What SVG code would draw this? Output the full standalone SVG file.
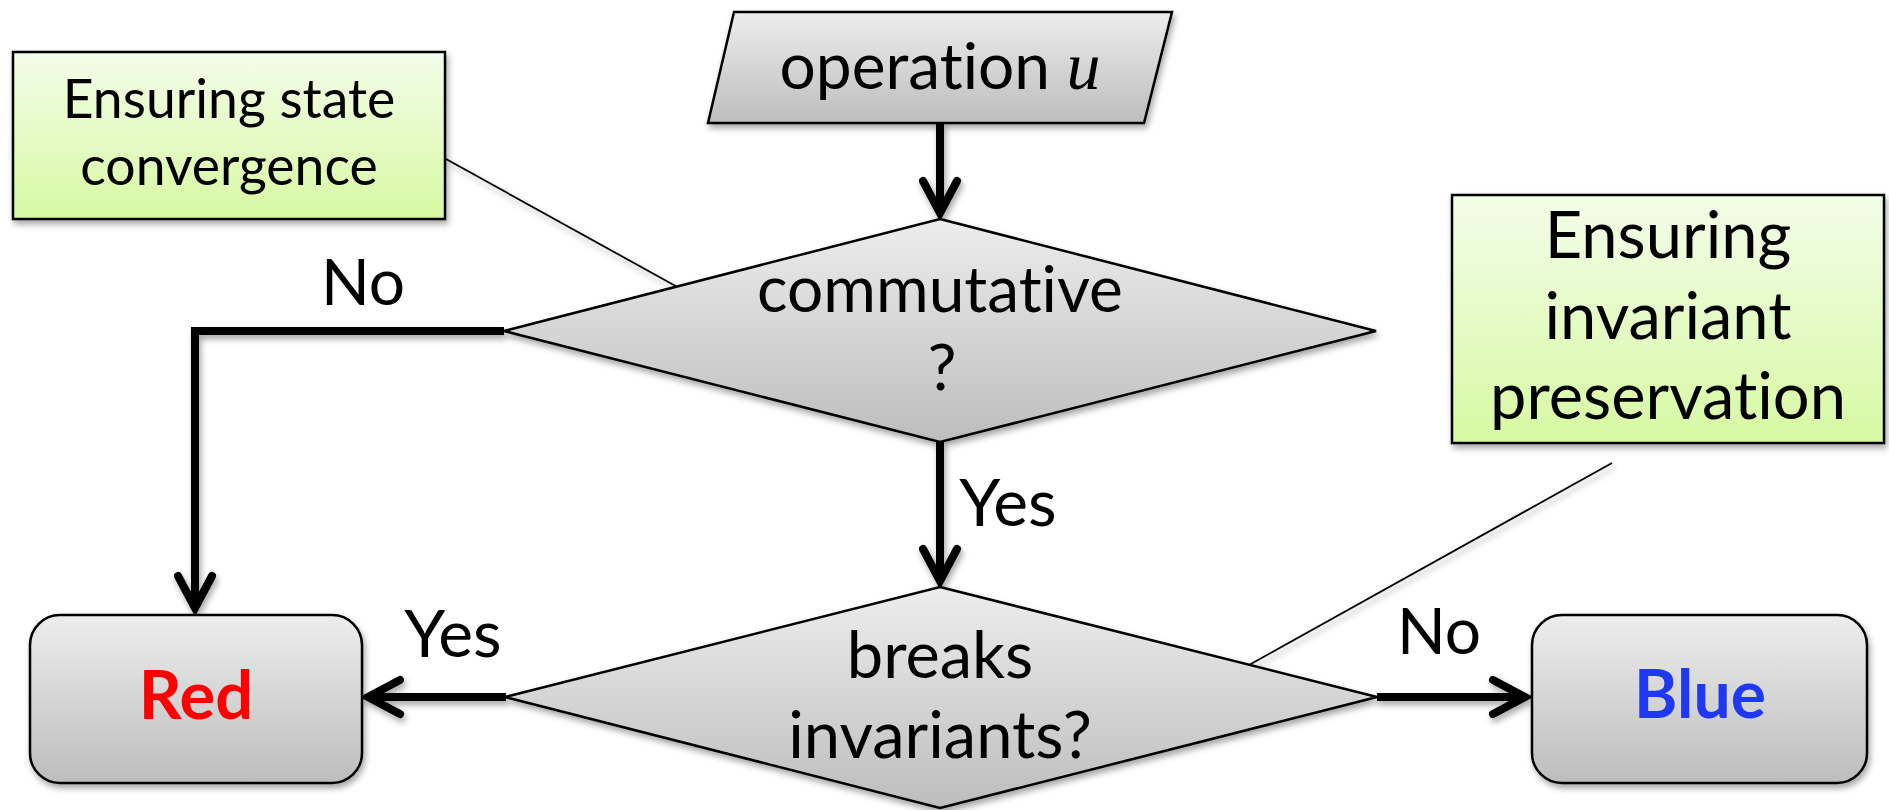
<svg xmlns="http://www.w3.org/2000/svg" width="1889" height="810" viewBox="0 0 1889 810">
<defs>
<linearGradient id="gray" x1="0" y1="0" x2="0" y2="1">
<stop offset="0" stop-color="#EDEDED"/>
<stop offset="1" stop-color="#BDBDBD"/>
</linearGradient>
<linearGradient id="green" x1="0" y1="0" x2="0" y2="1">
<stop offset="0" stop-color="#F3FDE9"/>
<stop offset="1" stop-color="#D7F9A3"/>
</linearGradient>
<filter id="sh" x="-10%" y="-10%" width="130%" height="140%">
<feDropShadow dx="2" dy="4" stdDeviation="3" flood-color="#000" flood-opacity="0.35"/>
</filter>
<marker id="arr" markerUnits="userSpaceOnUse" viewBox="-45 -25 55 50" refX="0" refY="0" markerWidth="55" markerHeight="50" orient="auto">
<path d="M-32 -17 L0 0 L-32 17" fill="none" stroke="#000" stroke-width="8" stroke-linecap="round" stroke-linejoin="miter"/>
</marker>
</defs>
<style>
.t{font-family:Lato,"Open Sans","Liberation Sans",sans-serif;fill:#000;text-anchor:middle;font-variant-ligatures:none}
.node{stroke:#000;stroke-width:2.5}
.flow{fill:none;stroke:#000;stroke-width:8;marker-end:url(#arr)}
.call{fill:none;stroke:#000;stroke-width:1.8}
</style>
<g id="connectors" filter="url(#sh)">
<path class="flow" d="M940 123 V213"/>
<path class="flow" d="M504 331 H195 V608"/>
<path class="flow" d="M940 442 V581"/>
<path class="flow" d="M506 697 H368"/>
<path class="flow" d="M1377 697 H1525"/>
<path class="call" d="M446 159 L681 289"/>
<path class="call" d="M1612 463 L1249 665"/>
</g>
<g id="note-convergence">
<rect class="node" x="13" y="52" width="432" height="167" fill="url(#green)" filter="url(#sh)"/>
<text class="t" x="229" y="118" font-size="53.5">Ensuring state</text>
<text class="t" x="229" y="185" font-size="53.5">convergence</text>
</g>
<g id="operation">
<polygon class="node" points="734,12 1172,12 1144,123 708,123" fill="url(#gray)" filter="url(#sh)"/>
<text class="t" x="940" y="89" font-size="64">operation <tspan font-family="'Liberation Serif',serif" font-style="italic" font-size="68">u</tspan></text>
</g>
<g id="commutative">
<polygon class="node" points="940,219 1376,331 940,442 504,331" fill="url(#gray)" filter="url(#sh)"/>
<text class="t" x="940" y="312" font-size="64">commutative</text>
<text class="t" x="942" y="390" font-size="64">?</text>
</g>
<g id="breaks">
<polygon class="node" points="940,587 1377,697 940,808 505,697" fill="url(#gray)" filter="url(#sh)"/>
<text class="t" x="940" y="678" font-size="65">breaks</text>
<text class="t" x="940" y="758" font-size="65">invariants?</text>
</g>
<g id="note-invariant">
<rect class="node" x="1452" y="195" width="432" height="248" fill="url(#green)" filter="url(#sh)"/>
<text class="t" x="1668" y="258" font-size="65">Ensuring</text>
<text class="t" x="1668" y="339" font-size="65">invariant</text>
<text class="t" x="1668" y="419" font-size="65">preservation</text>
</g>
<g id="red">
<rect class="node" x="30" y="615" width="332" height="168" rx="30" fill="url(#gray)" filter="url(#sh)"/>
<text class="t" x="196" y="719" font-size="67" font-weight="bold" style="fill:#FF0000">Red</text>
</g>
<g id="blue">
<rect class="node" x="1532" y="615" width="335" height="168" rx="30" fill="url(#gray)" filter="url(#sh)"/>
<text class="t" x="1700" y="718" font-size="66" font-weight="bold" style="fill:#1F38F2">Blue</text>
</g>
<g id="labels">
<text class="t" x="363" y="305" font-size="64">No</text>
<text class="t" x="1008" y="526" font-size="66">Yes</text>
<text class="t" x="453" y="657" font-size="66">Yes</text>
<text class="t" x="1439" y="654" font-size="64">No</text>
</g>
</svg>
